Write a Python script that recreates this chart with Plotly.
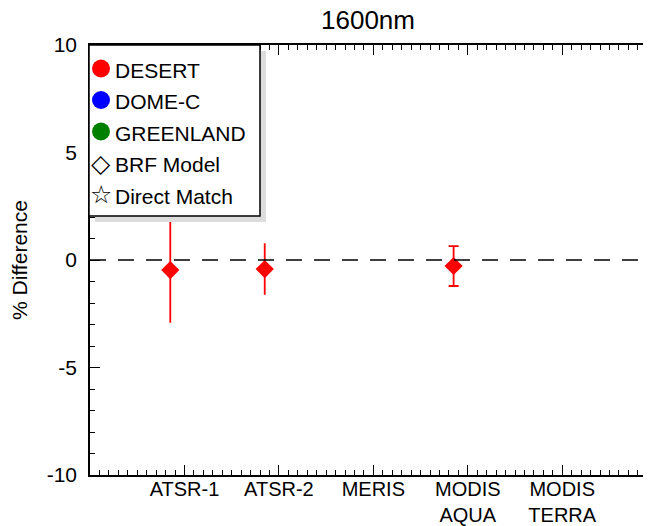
import plotly.graph_objects as go

# ---- data ----
sensors = ["ATSR-1", "ATSR-2", "MERIS", "MODIS<br>AQUA", "MODIS<br>TERRA"]
sites = ["DESERT", "DOME-C", "GREENLAND"]
site_colors = ["#ff0000", "#0000ff", "#008000"]
site_offsets = [-0.15, 0.0, 0.15]
methods = ["BRF Model", "Direct Match"]
method_glyphs = ["\u25C7", "\u2606"]

desert_sensor_idx = [1, 2, 4]
desert_diff = [-0.47, -0.42, -0.28]
desert_err = [2.45, 1.2, 0.93]
desert_cap = [0, 0, 5]

yticks = [-10, -5, 0, 5, 10]
yticktext = ["-10", "-5", "0", "5", "10"]

FONT = "Liberation Sans, Arial, Helvetica, sans-serif"

# the page body has an 8px margin: figure is laid out in page pixels minus 8
OFF = 8
W, H = 651 - OFF, 526 - OFF
L, R, T, B = 90 - OFF, 0, 45 - OFF, 526 - 475
pw, ph = W - L - R, H - T - B


def px_x(px):
    return (px - OFF - L) / pw


def px_y(py):
    return (H - B - (py - OFF)) / ph


fig = go.Figure()

# data points (DESERT, BRF model -> filled diamond)
for i, d, e, c in zip(desert_sensor_idx, desert_diff, desert_err, desert_cap):
    fig.add_trace(go.Scatter(
        x=[i + site_offsets[0]], y=[d], mode="markers",
        marker=dict(symbol="diamond", size=14, color=site_colors[0]),
        error_y=dict(type="data", array=[e], color=site_colors[0], thickness=1.8, width=c),
        showlegend=False, hoverinfo="skip"))

# zero line
fig.add_shape(type="line", xref="paper", yref="y", x0=0, x1=1, y0=0, y1=0,
              line=dict(color="black", width=1.5, dash="16px,12px"))

# ---- hand-built legend box (IDL style) ----
box_l, box_r, box_t, box_b = 89, 260, 45, 216
row_y = [70, 101.5, 133, 164.5, 196]
sym_x, text_x = 101, 113

fig.add_shape(type="rect", xref="paper", yref="paper",
              x0=px_x(box_l + 6), x1=px_x(box_r + 6), y0=px_y(box_b + 6), y1=px_y(box_t + 6),
              fillcolor="#dcdcdc", line=dict(width=0), layer="above")
fig.add_shape(type="rect", xref="paper", yref="paper",
              x0=px_x(box_l), x1=px_x(box_r), y0=px_y(box_b), y1=px_y(box_t),
              fillcolor="white", line=dict(width=1.5, color="black"), layer="above")

labels = sites + methods
for k, lab in enumerate(labels):
    fig.add_annotation(x=px_x(text_x), y=px_y(row_y[k]), xref="paper", yref="paper",
                       text=lab, showarrow=False, xanchor="left", yanchor="middle",
                       font=dict(size=21, family=FONT, color="black"))
for k, col in enumerate(site_colors):
    fig.add_shape(type="circle", xref="paper", yref="paper",
                  xsizemode="pixel", ysizemode="pixel",
                  xanchor=px_x(sym_x), yanchor=px_y(row_y[k] - 1.5),
                  x0=-9, x1=9, y0=-9, y1=9,
                  fillcolor=col, line=dict(width=0), layer="above")
for k, g in enumerate(method_glyphs):
    fig.add_annotation(x=px_x(sym_x), y=px_y(row_y[3 + k] - 1), xref="paper", yref="paper",
                       text=g, showarrow=False, xanchor="center", yanchor="middle",
                       font=dict(size=25, family="DejaVu Sans", color="black"))

fig.update_layout(
    width=W, height=H,
    margin=dict(l=L, r=R, t=T, b=B, autoexpand=False),
    paper_bgcolor="white", plot_bgcolor="white",
    font=dict(family=FONT, size=20, color="black"),
    title=dict(text="1600nm", x=px_x(368), xref="paper", xanchor="center",
               y=1 - (20 - OFF) / H, yanchor="middle", automargin=False,
               font=dict(size=26, family=FONT)),
    showlegend=False,
    xaxis=dict(range=[0, 5.94], tickmode="array", tickvals=[1, 2, 3, 4, 5], ticktext=sensors,
               ticks="inside", ticklen=10, tickwidth=1.2, tickcolor="black",
               showline=True, linecolor="black", linewidth=1.5, mirror="ticks",
               showgrid=False, zeroline=False, automargin=False,
               ticklabelstandoff=-5,
               minor=dict(dtick=0.1, ticks="inside", ticklen=5, tickwidth=1, tickcolor="black",
                          showgrid=False),
               tickfont=dict(size=20, family=FONT)),
    yaxis=dict(range=[-10, 10], tickmode="array", tickvals=yticks, ticktext=yticktext,
               ticks="inside", ticklen=10, tickwidth=1.2, tickcolor="black",
               showline=True, linecolor="black", linewidth=1.5, mirror=False,
               showgrid=False, zeroline=False, automargin=False,
               ticklabelstandoff=7,
               minor=dict(dtick=1, ticks="inside", ticklen=5, tickwidth=1, tickcolor="black",
                          showgrid=False),
               title=dict(text="% Difference", font=dict(size=21, family=FONT)),
               tickfont=dict(size=21, family=FONT)),
    yaxis2=dict(range=[-10, 10], overlaying="y", side="right", anchor="x",
                tickmode="array", tickvals=yticks, ticks="inside", ticklen=4, tickwidth=1.2,
                tickcolor="black", showticklabels=False, showline=False, showgrid=False,
                zeroline=False, automargin=False,
                minor=dict(dtick=1, ticks="inside", ticklen=2, tickwidth=1, tickcolor="#bbbbbb",
                           showgrid=False)),
)
# dummy trace on yaxis2 so the right-hand ticks render
fig.add_trace(go.Scatter(x=[None], y=[None], yaxis="y2", showlegend=False, hoverinfo="skip"))

fig.write_html("out.html")
